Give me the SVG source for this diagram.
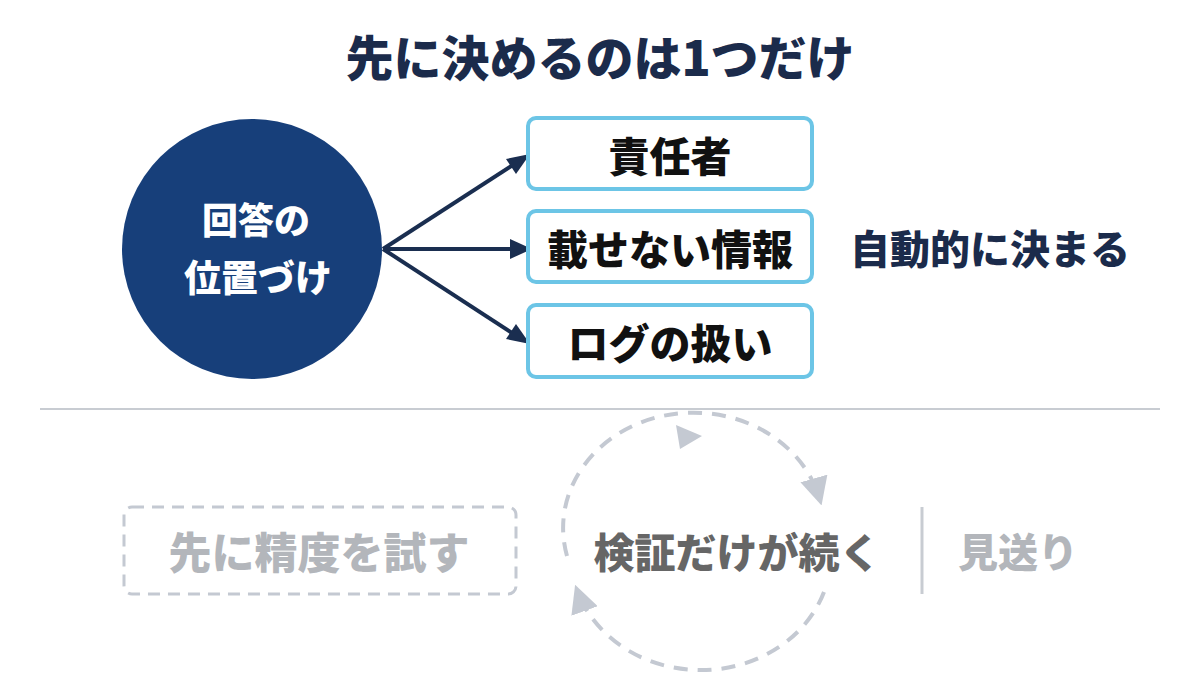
<svg xmlns="http://www.w3.org/2000/svg" width="1200" height="691" viewBox="0 0 1200 691">
<style>
text{font-family:"Noto Sans CJK JP","Noto Sans",sans-serif;font-weight:900;text-anchor:middle;dominant-baseline:central}
.box{fill:#fff;stroke:#6cc5e6;stroke-width:4}
.bt{font-size:41px;fill:#111}
.arr{stroke:#1a2e50;stroke-width:4;fill:none}
.dash{stroke:#c4c9d2;stroke-width:4;fill:none;stroke-dasharray:14 10}
</style>
<defs>
<marker id="gh" viewBox="0 0 10 10" refX="8" refY="5" markerWidth="28" markerHeight="28" markerUnits="userSpaceOnUse" orient="auto"><path d="M0,0 L10,5 L0,10 Z" fill="#c4c9d2"/></marker>
</defs>
<rect width="1200" height="691" fill="#fff"/>
<text x="600" y="55" font-size="48" fill="#1b2b4b">先に決めるのは1つだけ</text>
<g id="connectors">
<path class="arr" d="M383,249 L516,163"/>
<polygon points="530,154 506,159 516,174" fill="#1a2e50"/>
<path class="arr" d="M383,249 L512,249"/>
<polygon points="532,249 510,239 510,259" fill="#1a2e50"/>
<path class="arr" d="M383,249 L512,333"/>
<polygon points="530,344 516,324 506,339" fill="#1a2e50"/>
<path class="dash" d="M567,556 A130,115 0 0 1 820,500" marker-end="url(#gh)"/>
<polygon points="702,436 676,425 680,449" fill="#c4c9d2"/>
<path class="dash" d="M824,592 A130,115 0 0 1 577,590" marker-end="url(#gh)"/>
<line x1="40" y1="409" x2="1160" y2="409" stroke="#c8ccd2" stroke-width="2"/>
<line x1="922" y1="507" x2="922" y2="594" stroke="#c8ccd2" stroke-width="3"/>
</g>
<g id="center"><circle cx="252" cy="249" r="130" fill="#173f7a"/>
<text x="256" y="218" font-size="36" fill="#fff">回答の</text><text x="258" y="276" font-size="37" fill="#fff">位置づけ</text></g>
<g id="n1"><rect class="box" x="528" y="118" width="284" height="71" rx="8"/><text class="bt" x="670" y="154">責任者</text></g>
<g id="n2"><rect class="box" x="528" y="211" width="284" height="71" rx="8"/><text class="bt" x="670" y="247">載せない情報</text></g>
<g id="n3"><rect class="box" x="528" y="305" width="284" height="72" rx="8"/><text class="bt" x="670" y="341">ログの扱い</text></g>
<g id="auto"><text x="990" y="247" font-size="40" fill="#1b2b4b">自動的に決まる</text></g>
<g id="trial"><rect x="124" y="507" width="392" height="87" rx="8" fill="none" stroke="#c4c9d2" stroke-width="3" stroke-dasharray="12 8"/><text x="319" y="550" font-size="43" fill="#b3b6bb">先に精度を試す</text></g>
<g id="loop"><text x="737" y="550" font-size="41" fill="#666">検証だけが続く</text></g>
<g id="skip"><text x="1018" y="550" font-size="40" fill="#b3b6bb">見送り</text></g>
</svg>
